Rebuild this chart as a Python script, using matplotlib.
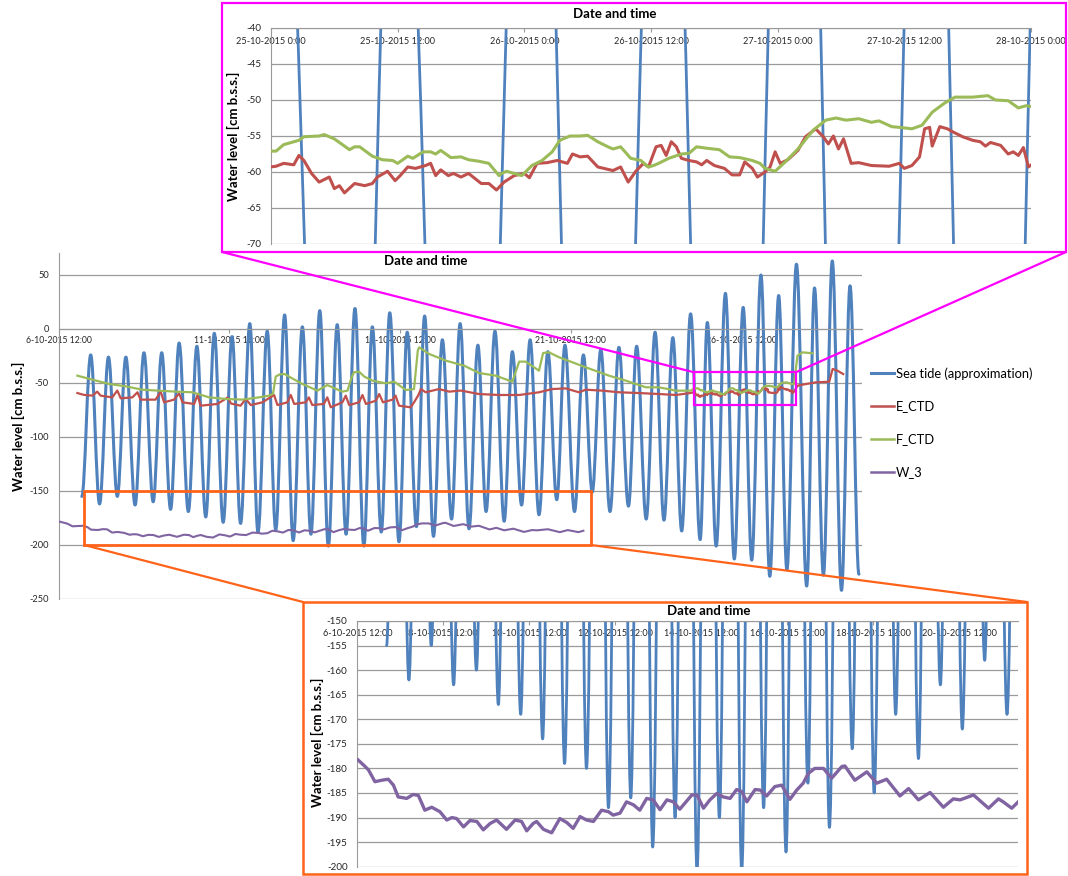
import numpy as np
import matplotlib
matplotlib.use('Agg')
import matplotlib.pyplot as plt
from matplotlib.path import Path
from matplotlib.patches import PathPatch, Rectangle, ConnectionPatch
from matplotlib.lines import Line2D
from datetime import datetime, timedelta

plt.rcParams['font.family'] = ['Lato', 'DejaVu Sans']
plt.rcParams['axes.unicode_minus'] = False

# time axis: days since 6-10-2015 0:00
START = datetime(2015, 10, 6)

# sea tide approximation: low and high water (day, cm b.s.s.)
tide_low_day = [1.18, 1.70, 2.22, 2.74, 3.27, 3.78, 4.30, 4.81, 5.32, 5.83,
                6.34, 6.86, 7.37, 7.89, 8.40, 8.92, 9.44, 9.95, 10.47, 10.98,
                11.48, 12.01, 12.52, 13.02, 13.55, 14.06, 14.57, 15.09, 15.61, 16.13,
                16.65, 17.19, 17.71, 18.23, 18.75, 19.29, 19.76, 20.29, 20.80, 21.33,
                21.83, 22.41, 22.90, 23.43, 23.94]
tide_low_cm = [-155, -162, -155, -163, -160, -167, -169, -174, -179, -180,
               -188, -186, -196, -190, -201, -190, -201, -188, -197, -183,
               -192, -176, -185, -169, -178, -163, -172, -158, -169, -151,
               -169, -164, -176, -177, -187, -195, -201, -213, -214, -229,
               -223, -238, -228, -242, -227]
tide_high_day = [1.44, 1.96, 2.47, 3.00, 3.52, 4.03, 4.55, 5.06, 5.58, 6.10,
                 6.61, 7.12, 7.64, 8.15, 8.66, 9.18, 9.69, 10.20, 10.71, 11.22,
                 11.74, 12.26, 12.78, 13.28, 13.79, 14.31, 14.83, 15.33, 15.87, 16.38,
                 16.91, 17.43, 17.97, 18.49, 19.01, 19.50, 20.03, 20.55, 21.07, 21.59,
                 22.11, 22.64, 23.16, 23.68]
tide_high_cm = [-24, -26, -26, -22, -22, -13, -16, -4, -7, 5,
                -2, 13, 2, 17, 4, 19, 2, 15, -3, 12,
                -10, 5, -15, -2, -21, -10, -21, -15, -24, -19,
                -17, -16, -3, -8, 14, 6, 33, 20, 50, 31,
                60, 38, 63, 40]

# E_CTD
e_ctd_day = [1.05, 1.24, 1.49, 1.63, 1.73, 2.07, 2.22, 2.32, 2.66, 2.81, 2.90, 3.34, 3.49, 3.59,
             3.88, 4.03, 4.13, 4.47, 4.57, 4.66, 5.15, 5.45, 5.55, 5.83, 5.98, 6.13, 6.47, 6.81,
             6.91, 7.20, 7.30, 7.40, 7.74, 7.83, 7.93, 8.27, 8.37, 8.47, 8.81, 8.91, 9.01, 9.30,
             9.40, 9.50, 9.79, 9.89, 10.00, 10.28, 10.37, 10.47, 10.81, 10.91, 11.04, 11.11, 11.25,
             11.64, 11.94, 12.28, 12.81, 13.40, 13.99, 14.57, 14.96, 15.35, 15.74, 15.94, 16.43,
             16.92, 17.50, 18.09, 18.58,
             19.02, 19.05, 19.09, 19.11, 19.13, 19.16, 19.19, 19.23, 19.25, 19.27, 19.29, 19.33,
             19.37, 19.40, 19.42, 19.46, 19.49, 19.51, 19.54, 19.57, 19.61, 19.63, 19.65, 19.67,
             19.70, 19.72, 19.75, 19.78, 19.83, 19.86, 19.89, 19.92, 19.96, 20.00, 20.02, 20.05,
             20.09, 20.13, 20.17, 20.19, 20.22, 20.25, 20.29, 20.35, 20.38, 20.41, 20.44, 20.47,
             20.49, 20.52, 20.54, 20.56, 20.58, 20.60, 20.62, 20.65, 20.68, 20.70, 20.72, 20.75,
             20.79, 20.82, 20.85, 20.87, 20.90, 20.92, 20.95, 20.97, 20.99, 21.01, 21.04, 21.08,
             21.11, 21.15, 21.18, 21.20, 21.22, 21.24, 21.26, 21.29, 21.32, 21.37, 21.44, 21.48,
             21.50, 21.53, 21.56, 21.58, 21.60, 21.61, 21.64, 21.67, 21.69, 21.73, 21.77, 21.80,
             21.82, 21.84, 21.88, 21.91, 21.93, 21.95, 21.97, 21.99,
             22.04, 22.14, 22.38, 22.68, 23.07, 23.17, 23.31, 23.48]
e_ctd_cm = [-59.3, -61.0, -61.7, -58.0, -61.7, -63.3, -57.0, -64.2, -63.3, -58.6, -65.4, -65.4, -58.0, -67.9,
            -65.4, -59.6, -67.9, -69.4, -61.1, -71.0, -69.4, -63.5, -69.0, -71.0, -64.8, -70.4, -67.9, -61.1,
            -70.4, -67.9, -61.1, -69.4, -67.9, -63.3, -70.4, -69.4, -63.3, -72.5, -67.9, -61.7, -70.4, -67.9,
            -61.1, -69.4, -66.4, -60.2, -67.9, -65.4, -61.7, -71.0, -72.5, -67.9, -61.1, -55.6, -58.6,
            -55.6, -58.0, -57.0, -60.2, -61.1, -61.1, -58.6, -55.6, -55.0, -58.6, -56.2, -57.1,
            -58.6, -59.3, -60.2, -61.1,
            -59.2, -58.8, -59.0, -57.7, -58.4, -60.2, -61.4, -60.7, -62.3, -61.9, -62.9, -61.6,
            -61.9, -61.6, -60.7, -59.9, -61.2, -60.5, -59.3, -59.5, -59.1, -58.8, -60.5, -59.7,
            -60.5, -60.2, -60.7, -60.2, -61.6, -61.6, -62.5, -61.4, -60.5, -60.2, -60.8, -58.8,
            -58.7, -58.4, -58.8, -57.5, -57.9, -57.8, -59.3, -59.8, -59.3, -61.4, -59.9, -58.8,
            -59.3, -56.5, -56.3, -57.7, -55.8, -56.5, -58.1, -58.4, -58.6, -59.0, -58.4, -59.1,
            -59.5, -60.4, -60.4, -58.6, -59.5, -60.7, -60.0, -59.3, -57.2, -58.8, -58.3, -57.0,
            -55.1, -54.0, -55.1, -56.1, -55.0, -56.8, -55.4, -58.8, -58.7, -59.1, -59.2, -58.8,
            -59.5, -59.1, -57.9, -54.0, -53.8, -56.4, -53.7, -54.0, -54.4, -55.1, -55.6, -55.8,
            -56.4, -55.9, -56.3, -57.5, -57.2, -57.7, -56.6, -59.3,
            -58.0, -52.5, -51.0, -49.4, -48.8, -37.0, -38.6, -41.7]

# F_CTD
f_ctd_day = [1.05, 1.49, 1.98, 2.47, 2.95, 3.44, 3.93, 4.42, 4.91, 5.40, 5.88, 6.37, 6.66, 6.78,
             6.86, 6.98, 7.12, 7.30, 7.64, 8.08, 8.37, 8.81, 8.96, 9.08, 9.15, 9.30, 9.45, 9.69,
             10.08, 10.33, 10.67, 10.91, 11.02, 11.06, 11.35, 11.84, 12.38, 12.81, 13.30, 13.79,
             13.99, 14.18, 14.57, 14.69, 14.86, 15.16, 15.94, 16.62, 17.11, 17.70, 18.09, 18.58,
             19.02, 19.05, 19.11, 19.13, 19.19, 19.21, 19.25, 19.31, 19.33, 19.35, 19.40, 19.44,
             19.48, 19.50, 19.54, 19.56, 19.60, 19.63, 19.65, 19.67, 19.71, 19.75, 19.78, 19.82,
             19.86, 19.90, 19.91, 19.93, 19.96, 19.99, 20.03, 20.07, 20.11, 20.14, 20.18, 20.22,
             20.25, 20.29, 20.33, 20.35, 20.38, 20.42, 20.46, 20.49, 20.51, 20.53, 20.57, 20.62,
             20.65, 20.68, 20.72, 20.77, 20.81, 20.85, 20.90, 20.93, 20.95, 20.99, 21.03, 21.08,
             21.14, 21.19, 21.23, 21.27, 21.32, 21.37, 21.40, 21.45, 21.48, 21.53, 21.57, 21.61,
             21.66, 21.70, 21.77, 21.83, 21.86, 21.91, 21.95, 21.98, 22.00,
             22.04, 22.14, 22.29, 22.58]
f_ctd_cm = [-43.2, -46.9, -50.9, -53.1, -56.2, -57.1, -58.0, -58.6, -63.3, -64.8, -65.4, -63.3, -61.7, -60.0,
            -44.0, -42.0, -41.7, -45.0, -50.9, -57.1, -51.9, -58.0, -57.1, -45.0, -40.1, -39.5, -44.0, -47.8,
            -50.3, -48.8, -56.5, -55.6, -20.0, -17.0, -23.1, -29.3, -34.0, -40.7, -43.2, -48.8,
            -30.2, -30.2, -38.6, -22.2, -21.6, -26.2, -35.5, -43.2, -47.8, -54.0, -54.0, -57.1,
            -57.1, -56.2, -55.6, -55.1, -55.0, -54.8, -55.4, -56.9, -56.5, -56.5, -57.8, -58.3,
            -58.4, -58.8, -57.8, -58.1, -57.2, -57.2, -57.5, -57.0, -58.0, -57.9, -58.3, -58.5,
            -58.8, -60.5, -60.2, -59.9, -60.2, -60.5, -59.1, -58.4, -57.2, -55.6, -55.0, -55.0,
            -54.9, -55.8, -56.5, -56.8, -56.5, -58.1, -58.4, -59.3, -59.1, -58.8, -58.1, -57.5,
            -57.4, -56.5, -56.7, -56.9, -57.9, -58.0, -58.4, -58.8, -59.5, -59.9, -58.6, -56.8,
            -54.2, -52.8, -52.5, -52.8, -52.6, -53.1, -52.9, -53.7, -53.8, -54.0, -53.5, -51.7,
            -50.4, -49.6, -49.6, -49.4, -50.0, -50.1, -51.1, -50.8, -50.9,
            -51.0, -24.7, -21.6, -22.5]

# W_3
w3_day = [0.52, 0.68, 0.76, 0.91, 1.07, 1.22, 1.34, 1.45, 1.65, 1.80, 1.92, 2.07, 2.23, 2.42,
          2.58, 2.70, 2.81, 2.97, 3.12, 3.28, 3.43, 3.59, 3.74, 3.97, 4.17, 4.32, 4.44, 4.59,
          4.67, 4.83, 5.02, 5.21, 5.37, 5.52, 5.68, 5.83, 5.99, 6.18, 6.34, 6.45, 6.61, 6.76,
          6.92, 7.07, 7.23, 7.38, 7.54, 7.70, 7.85, 8.00, 8.28, 8.40, 8.55, 8.70, 8.86, 9.01,
          9.17, 9.32, 9.44, 9.56, 9.75, 9.87, 10.02, 10.21, 10.37, 10.56, 10.72, 10.87, 10.99,
          11.14, 11.34, 11.53, 11.77, 11.84, 12.07, 12.35, 12.58, 12.81, 13.12, 13.32, 13.55,
          13.82, 14.13, 14.36, 14.52, 14.83, 15.18, 15.41, 15.52, 15.72, 15.87]
w3_cm = [-178.3, -179.6, -180.3, -182.7, -182.4, -182.2, -183.4, -185.8, -186.1, -185.3, -185.5, -188.5, -187.9, -188.8,
         -190.5, -190.0, -190.2, -191.9, -190.6, -190.8, -192.5, -191.2, -190.5, -192.4, -190.5, -190.8, -192.7, -191.2,
         -190.8, -192.4, -193.1, -190.2, -191.0, -192.2, -189.8, -190.5, -190.8, -188.5, -188.8, -189.5, -189.1, -186.8,
         -187.4, -188.5, -186.1, -186.4, -188.4, -186.4, -186.8, -188.3, -185.4, -185.4, -188.1, -186.4, -185.1, -185.8,
         -186.1, -184.3, -184.7, -186.8, -184.3, -184.4, -185.6, -183.7, -183.4, -186.3, -184.4, -183.0, -181.0,
         -180.0, -180.0, -182.0, -179.6, -179.5, -182.4, -180.7, -183.0, -182.2, -185.6, -184.1, -186.4,
         -184.9, -187.9, -186.2, -186.4, -185.4, -188.1, -186.2, -186.8, -188.1, -186.8]

BLUE, RED, GREEN, PURPLE = '#4F81BD', '#C0504D', '#9BBB59', '#8064A2'
MAGENTA, ORANGE = '#FF00FF', '#FF6319'
GRID = '#9A9A9A'
TXT = '#262626'

W, H = 1068, 876
fig = plt.figure(figsize=(W / 100, H / 100), dpi=100)


def box(x0, y0, x1, y1):
    # pixel box (top-left origin) -> figure fraction rect
    return [x0 / W, 1 - y1 / H, (x1 - x0) / W, (y1 - y0) / H]


def fpt(x, y):
    return (x / W, 1 - y / H)


def stamp(d):
    t = START + timedelta(minutes=round(d * 1440))
    return f"{t.day}-{t.month}-{t.year} {t.hour}:{t.minute:02d}"


def tide_patch(lw):
    # smooth curve through alternating low/high water using cubic segments
    days, vals = [], []
    for i in range(len(tide_high_day)):
        days += [tide_low_day[i], tide_high_day[i]]
        vals += [tide_low_cm[i], tide_high_cm[i]]
    days.append(tide_low_day[-1])
    vals.append(tide_low_cm[-1])
    verts = [(days[0], vals[0])]
    codes = [Path.MOVETO]
    for i in range(1, len(days)):
        dt = days[i] - days[i - 1]
        verts += [(days[i - 1] + 0.364 * dt, vals[i - 1]),
                  (days[i] - 0.364 * dt, vals[i]),
                  (days[i], vals[i])]
        codes += [Path.CURVE4] * 3
    return PathPatch(Path(verts, codes), fill=False, edgecolor=BLUE, lw=lw,
                     joinstyle='round', capstyle='round', zorder=2)


def style_axes(ax, xlim, ylim, ystep, xticks, axis_at, fs, pad=2):
    ax.set_xlim(*xlim)
    ax.set_ylim(*ylim)
    ax.set_yticks(np.arange(ylim[0], ylim[1] + 0.1, ystep))
    ax.set_xticks(xticks)
    ax.set_xticklabels([stamp(d) for d in xticks])
    ax.grid(axis='y', color=GRID, lw=0.9)
    ax.set_axisbelow(True)
    for s in ('top', 'right'):
        ax.spines[s].set_visible(False)
    ax.spines['left'].set_color(GRID)
    ax.spines['bottom'].set_color(GRID)
    ax.spines['bottom'].set_position(('data', axis_at))
    ax.tick_params(axis='x', direction='out', length=3, width=0.8, color=GRID,
                   labelsize=fs, labelcolor=TXT, pad=pad)
    ax.tick_params(axis='y', length=0, labelsize=fs + 0.5, labelcolor=TXT, pad=7)


# ---- main chart ----
ax = fig.add_axes(box(58.6, 253.4, 862, 599))
style_axes(ax, (0.5, 24.03), (-250, 70), 50, [0.5, 5.5, 10.5, 15.5, 20.5], 0, 6.2)
ax.set_yticks([-250, -200, -150, -100, -50, 0, 50])
ax.add_patch(tide_patch(2.2))
ax.plot(e_ctd_day, e_ctd_cm, color=RED, lw=1.6, zorder=3)
ax.plot(f_ctd_day, f_ctd_cm, color=GREEN, lw=1.6, zorder=4)
ax.plot(w3_day, w3_cm, color=PURPLE, lw=1.5, zorder=5)
ax.add_patch(Rectangle((19.1, -70), 3.0, 30, fill=False, ec=MAGENTA, lw=1.6, zorder=6))
ax.add_patch(Rectangle((1.25, -200), 14.84, 50, fill=False, ec=ORANGE, lw=2.0, zorder=6))
fig.text(*fpt(426, 261), 'Date and time', ha='center', va='center',
         fontsize=9.5, fontweight='bold')
fig.text(*fpt(18, 426), 'Water level [cm b.s.s.]', ha='center', va='center',
         rotation=90, fontsize=9.5, fontweight='bold')

handles = [Line2D([], [], color=BLUE, lw=2.2), Line2D([], [], color=RED, lw=1.8),
           Line2D([], [], color=GREEN, lw=1.8), Line2D([], [], color=PURPLE, lw=1.8)]
labels = ['Sea tide (approximation)', 'E_CTD', 'F_CTD', 'W_3']
fig.legend(handles, labels, loc='upper left', bbox_to_anchor=fpt(871, 367),
           bbox_transform=fig.transFigure, frameon=False, fontsize=9.3,
           handlelength=1.75, handletextpad=0.15, labelspacing=1.62,
           borderpad=0, borderaxespad=0)

# ---- zoom on 25-28 October ----
axt = fig.add_axes(box(271, 28, 1031, 244))
style_axes(axt, (19.0, 22.0), (-70, -40), 5,
           [19.0, 19.5, 20.0, 20.5, 21.0, 21.5, 22.0], -40, 6.6, pad=3.5)
axt.add_patch(tide_patch(2.0))
axt.plot(e_ctd_day, e_ctd_cm, color=RED, lw=2.2, zorder=3)
axt.plot(f_ctd_day, f_ctd_cm, color=GREEN, lw=2.2, zorder=4)
fig.text(*fpt(615, 14), 'Date and time', ha='center', va='center',
         fontsize=9.5, fontweight='bold')
fig.text(*fpt(233, 136), 'Water level [cm b.s.s.]', ha='center', va='center',
         rotation=90, fontsize=9.5, fontweight='bold')
fig.add_artist(Rectangle(fpt(222, 252), (1066 - 222) / W, (252 - 3) / H,
                         transform=fig.transFigure, fill=False, ec=MAGENTA, lw=1.6))

# ---- zoom on the W_3 record ----
axb = fig.add_axes(box(357.3, 621, 1018, 866.7))
style_axes(axb, (0.5, 15.865), (-200, -150), 5,
           [0.5, 2.5, 4.5, 6.5, 8.5, 10.5, 12.5, 14.5], -150, 6.6, pad=2.5)
axb.add_patch(tide_patch(2.0))
axb.plot(w3_day, w3_cm, color=PURPLE, lw=2.4, zorder=5)
fig.text(*fpt(709, 611), 'Date and time', ha='center', va='center',
         fontsize=9.5, fontweight='bold')
fig.text(*fpt(317, 742), 'Water level [cm b.s.s.]', ha='center', va='center',
         rotation=90, fontsize=9.5, fontweight='bold')
fig.add_artist(Rectangle(fpt(303, 874), (1027 - 303) / W, (874 - 602) / H,
                         transform=fig.transFigure, fill=False, ec=ORANGE, lw=1.8))

# ---- connector lines from the marked regions to the zoom panels ----
for xy, corner, col in [((19.1, -40), (222, 252), MAGENTA), ((22.1, -40), (1066, 252), MAGENTA),
                        ((1.25, -200), (303, 602), ORANGE), ((16.09, -200), (1027, 602), ORANGE)]:
    fig.add_artist(ConnectionPatch(xyA=xy, coordsA=ax.transData, xyB=fpt(*corner),
                                   coordsB=fig.transFigure, color=col, lw=1.6, zorder=7))

fig.savefig('out.png', dpi=100, facecolor='white')
